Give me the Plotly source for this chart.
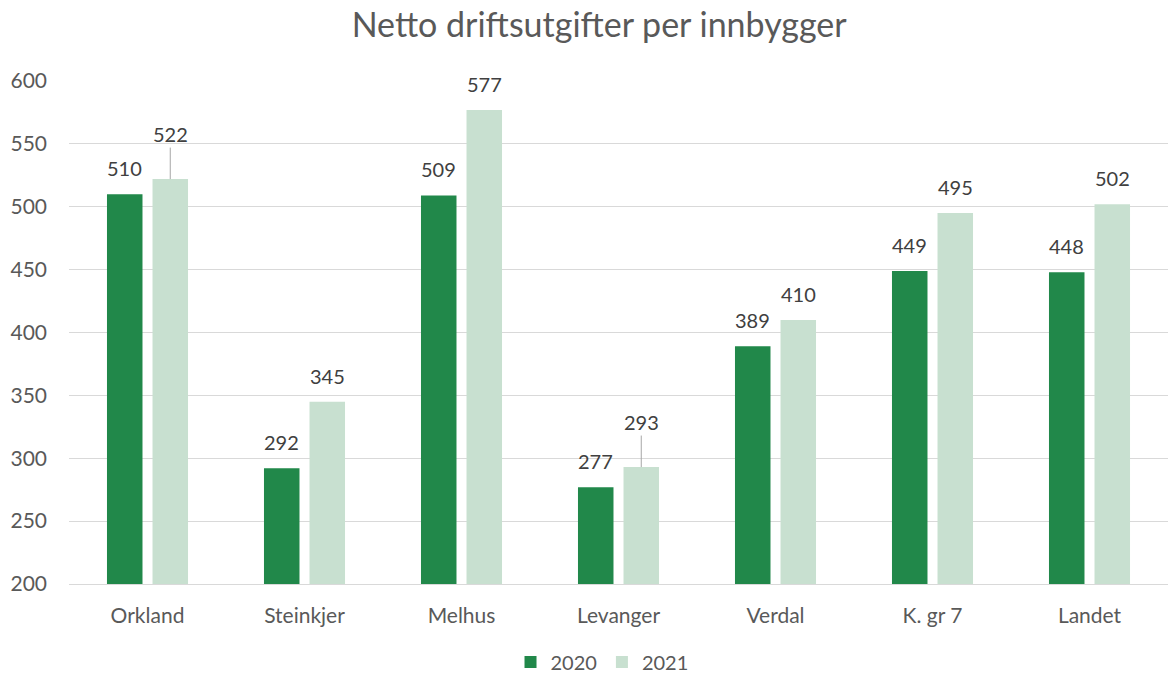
import plotly.graph_objects as go

categories = ["Orkland", "Steinkjer", "Melhus", "Levanger", "Verdal", "K. gr 7", "Landet"]
values_2020 = [510, 292, 509, 277, 389, 449, 448]
values_2021 = [522, 345, 577, 293, 410, 495, 502]
series_names = ["2020", "2021"]
leader_2021 = ["Orkland", "Levanger"]

colors = ["#21884A", "#C8E0D0"]
font_family = "Lato, 'Noto Sans', sans-serif"
label_color = "#404040"
axis_text = "#595959"

fig = go.Figure()
for name, vals, col in zip(series_names, [values_2020, values_2021], colors):
    fig.add_trace(go.Bar(x=categories, y=vals, name=name, marker=dict(color=col, line=dict(width=0))))

# plot geometry for label offsets
W, H = 1168, 676
ml, mr, mt, mb = 69, 0, 81, 92
cat_w = (W - ml - mr) / len(categories)
bargap = 0.42
slot = cat_w * (1 - bargap) / 2
offsets = [-slot / 2, slot / 2]

for i, vals in enumerate([values_2020, values_2021]):
    for c, v in zip(categories, vals):
        if i == 1 and c in leader_2021:
            fig.add_annotation(x=c, y=v, text=str(v), xshift=offsets[i], showarrow=True,
                               arrowhead=0, arrowwidth=1, arrowcolor="#A6A6A6", ax=0, ay=-45,
                               font=dict(size=20, color=label_color, family=font_family))
        else:
            fig.add_annotation(x=c, y=v, text=str(v), xshift=offsets[i], yshift=12, yanchor="bottom",
                               showarrow=False, font=dict(size=20, color=label_color, family=font_family))

fig.update_layout(
    width=W, height=H,
    margin=dict(l=ml, r=mr, t=mt, b=mb, autoexpand=False),
    paper_bgcolor="white", plot_bgcolor="white",
    barmode="group", bargap=bargap, bargroupgap=0.22,
    title=dict(text="Netto driftsutgifter per innbygger", x=0.513, xanchor="center", y=0.963, yanchor="middle",
               font=dict(size=34, color=axis_text, family=font_family)),
    font=dict(family=font_family, color=axis_text, size=20),
    legend=dict(orientation="h", x=0.485, xanchor="center", y=-0.155, yanchor="middle",
                font=dict(size=20, color=axis_text), itemwidth=30, traceorder="normal"),
    showlegend=True,
)
fig.update_yaxes(range=[200, 600], dtick=50, showgrid=True, gridcolor="#D9D9D9", gridwidth=1,
                 zeroline=False, showline=False, ticks="", ticklabelstandoff=21,
                 tickfont=dict(size=21, color=axis_text, family=font_family))
fig.update_xaxes(showline=True, linecolor="#D9D9D9", linewidth=1, ticks="", ticklabelstandoff=13,
                 tickfont=dict(size=21, color=axis_text, family=font_family))

fig.write_html("out.html", config={"displayModeBar": False},
               post_script="document.body.style.margin='0';")
